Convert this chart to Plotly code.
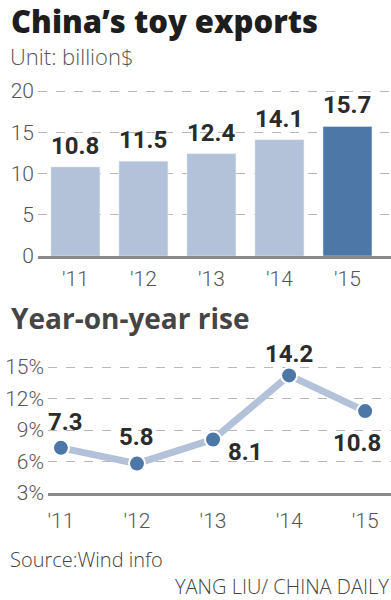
import plotly.graph_objects as go

years = ["'11", "'12", "'13", "'14", "'15"]
exports = [10.8, 11.5, 12.4, 14.1, 15.7]
rise = [7.3, 5.8, 8.1, 14.2, 10.8]
bar_ticks = [0, 5, 10, 15, 20]
rise_ticks = [3, 6, 9, 12, 15]

W, H = 391, 600
def X(px):
    return px / W
def Y(px):
    return 1 - px / H

light_bar = "#b3c2d8"
dark_bar = "#4c77a6"
bar_colors = [light_bar] * (len(years) - 1) + [dark_bar]

LIGHT = dict(family="Roboto", size=21, color="#555555", weight=300)
BOLD_NUM = dict(family="Roboto", size=24, color="#2b2b2b", weight=700)

idx = list(range(len(years)))
fig = go.Figure()

fig.add_trace(go.Bar(
    x=idx, y=exports, marker_color=bar_colors, width=0.72,
    xaxis="x", yaxis="y", hoverinfo="skip",
))
for i, v in enumerate(exports):
    fig.add_annotation(x=i, y=v, xref="x", yref="y", text=f"{v:.1f}",
                       showarrow=False, font=BOLD_NUM, yanchor="middle", yshift=21)

fig.add_trace(go.Scatter(
    x=idx, y=rise, mode="lines+markers",
    line=dict(color="#b3c2d8", width=7),
    marker=dict(color="#4c77a6", size=16, line=dict(color="white", width=2)),
    xaxis="x2", yaxis="y2", cliponaxis=False, hoverinfo="skip",
))

offs = [(5, 26), (0, 27), (32, -13), (0, 21), (-8, -32)]
for i, v in enumerate(rise):
    fig.add_annotation(x=i, y=v, xref="x2", yref="y2", text=f"{v:.1f}",
                       showarrow=False, font=BOLD_NUM, yanchor="middle",
                       xshift=offs[i][0], yshift=offs[i][1])

grid = dict(showgrid=True, gridcolor="#b8b8b8", griddash="dash", gridwidth=1)

bar_top_px = 256 - 20.6 * 8.25
line_top_px = 493 - 13.3 * 10.5

fig.update_layout(
    width=W, height=H, margin=dict(l=0, r=0, t=0, b=0, autoexpand=False),
    paper_bgcolor="white", plot_bgcolor="white", showlegend=False,
    xaxis=dict(domain=[X(38), 1], range=[-0.55, 4.64], tickvals=idx,
               ticktext=years, tickfont=LIGHT, showline=True, linecolor="#8a8a8a",
               linewidth=2.5, showgrid=False, zeroline=False, ticks="", anchor="y",
               ticklabelstandoff=2),
    yaxis=dict(domain=[Y(256), Y(bar_top_px)], range=[0, 20.6], tickvals=bar_ticks,
               tickfont=LIGHT, zeroline=False, showline=False, ticks="",
               ticklabelstandoff=3, anchor="x", **grid),
    xaxis2=dict(domain=[X(48), 1], range=[-0.17, 4.34], tickvals=idx,
                ticktext=years, tickfont=LIGHT, showline=True, linecolor="#8a8a8a",
                linewidth=2.5, showgrid=False, zeroline=False, ticks="", anchor="y2",
                ticklabelstandoff=7),
    yaxis2=dict(domain=[Y(493), Y(line_top_px)], range=[3, 16.3], tickvals=rise_ticks,
                ticktext=[f"{t}%" for t in rise_ticks], tickfont=LIGHT,
                zeroline=False, showline=False, ticks="",
                ticklabelstandoff=3, anchor="x2", **grid),
)

fig.add_annotation(x=X(9), y=Y(21), xref="paper", yref="paper", xanchor="left",
                   yanchor="middle", showarrow=False, text="China’s toy exports",
                   font=dict(family="Open Sans", size=31, color="#1e1e1e", weight=800))
fig.add_annotation(x=X(8), y=Y(56), xref="paper", yref="paper", xanchor="left",
                   yanchor="middle", showarrow=False, text="Unit: billion$",
                   font=dict(family="Open Sans", size=22, color="#555555", weight=300))
fig.add_annotation(x=X(9), y=Y(318), xref="paper", yref="paper", xanchor="left",
                   yanchor="middle", showarrow=False, text="Year-on-year rise",
                   font=dict(family="Open Sans", size=28, color="#454545", weight=700))
fig.add_annotation(x=X(8), y=Y(559), xref="paper", yref="paper", xanchor="left",
                   yanchor="middle", showarrow=False, text="Source:Wind info",
                   font=dict(family="Open Sans", size=20, color="#444444", weight=300))
fig.add_annotation(x=1, y=Y(586), xref="paper", yref="paper", xanchor="right",
                   yanchor="middle", showarrow=False, text="YANG LIU/ CHINA DAILY",
                   font=dict(family="Open Sans", size=20, color="#444444", weight=300))

fig.write_html("out.html", config={"displayModeBar": False},
               post_script="document.body.style.margin='0';document.body.style.overflow='hidden';")
